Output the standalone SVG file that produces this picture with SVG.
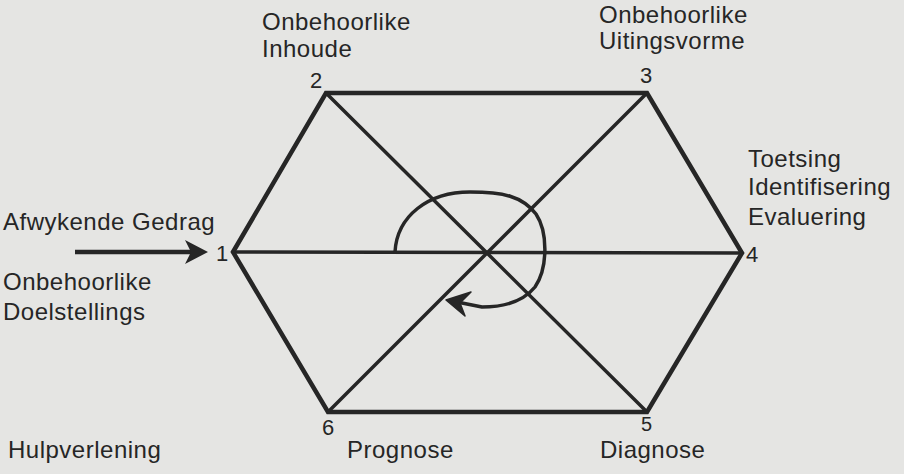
<svg xmlns="http://www.w3.org/2000/svg" width="904" height="474" viewBox="0 0 904 474">
  <style>
    .bg { fill: #e5e5e3; }
    .lbl { font-family: "Liberation Sans", Arial, sans-serif; font-size: 24px; fill: #262626; letter-spacing: 0.5px; }
    .num { font-family: "Liberation Sans", Arial, sans-serif; font-size: 22px; fill: #262626; }
    .edge { stroke: #262626; stroke-width: 4.5; fill: none; stroke-linejoin: miter; stroke-linecap: round; }
    .diag { stroke: #262626; stroke-width: 3.5; fill: none; stroke-linecap: round; }
    .curve { stroke: #262626; stroke-width: 3.5; fill: none; stroke-linecap: round; stroke-linejoin: round; }
  </style>
  <rect class="bg" x="0" y="0" width="904" height="474"/>

  <g id="connectors">
    <polygon class="edge" points="233,252 326,93 647,93 742,253 647,412 328,412"/>
    <line class="diag" x1="233" y1="252" x2="742" y2="253"/>
    <line class="diag" x1="326" y1="93" x2="647" y2="412"/>
    <line class="diag" x1="647" y1="93" x2="328" y2="412"/>
    <path class="curve" d="M395,252 C397,216 428,192 470,192 C503,192 522,196 536,214 C548,232 548,268 535,287 C522,303 502,307 482,307 L452,301"/>
    <polygon points="446,300 471,292 460,303 465,316" fill="#262626" stroke="#262626" stroke-width="1.5" stroke-linejoin="round"/>
    <line x1="75" y1="252" x2="195" y2="252" stroke="#262626" stroke-width="4.5"/>
    <polygon points="208,252 185,240 191,252 185,264" fill="#262626"/>
  </g>

  <g id="node1">
    <text class="lbl" x="3" y="230">Afwykende Gedrag</text>
    <text class="num" x="216" y="261">1</text>
    <text class="lbl" x="3" y="290">Onbehoorlike</text>
    <text class="lbl" x="3" y="320">Doelstellings</text>
  </g>
  <g id="node2">
    <text class="lbl" x="262" y="30">Onbehoorlike</text>
    <text class="lbl" x="262" y="57">Inhoude</text>
    <text class="num" x="310" y="88">2</text>
  </g>
  <g id="node3">
    <text class="lbl" x="599" y="23">Onbehoorlike</text>
    <text class="lbl" x="599" y="49">Uitingsvorme</text>
    <text class="num" x="640" y="83">3</text>
  </g>
  <g id="node4">
    <text class="lbl" x="748" y="167">Toetsing</text>
    <text class="lbl" x="748" y="195">Identifisering</text>
    <text class="lbl" x="748" y="225">Evaluering</text>
    <text class="num" x="746" y="262">4</text>
  </g>
  <g id="node5">
    <text class="num" x="641" y="431" style="font-size:20px">5</text>
    <text class="lbl" x="600" y="458">Diagnose</text>
  </g>
  <g id="node6">
    <text class="num" x="322" y="435">6</text>
    <text class="lbl" x="347" y="458">Prognose</text>
    <text class="lbl" x="8" y="458">Hulpverlening</text>
  </g>
</svg>
